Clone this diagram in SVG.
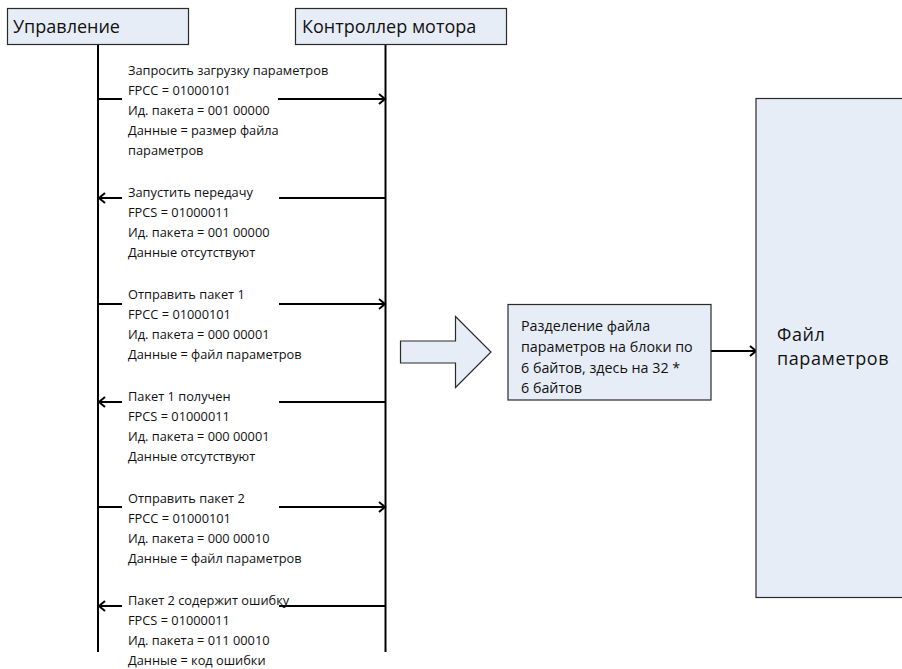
<svg xmlns="http://www.w3.org/2000/svg" width="902" height="669" viewBox="0 0 902 669">
  <defs>
    <marker id="open" markerWidth="10" markerHeight="12" refX="8" refY="6" orient="auto" markerUnits="userSpaceOnUse">
      <path d="M2,1 L8,6 L2,11" fill="none" stroke="#000" stroke-width="2"/>
    </marker>
    <style>
      .box { fill: #e7edf6; stroke: #2a2a2a; stroke-width: 1.2; }
      .life { stroke: #000; stroke-width: 2; fill: none; }
      .msg { stroke: #000; stroke-width: 2; fill: none; }
      .head { font-family: "Open Sans", "Noto Sans", sans-serif; font-size: 18px; fill: #111; }
      .lbl { font-family: "Open Sans", "Noto Sans", sans-serif; font-size: 12.8px; fill: #111; }
      .note { font-family: "Open Sans", "Noto Sans", sans-serif; font-size: 14.3px; fill: #111; }
      .file { font-family: "Open Sans", "Noto Sans", sans-serif; font-size: 18px; letter-spacing: 0.6px; fill: #111; }
    </style>
  </defs>
  <rect width="902" height="669" fill="#fff"/>

  <!-- lifelines -->
  <g id="lifelines">
    <line class="life" x1="98" y1="45" x2="98" y2="652"/>
    <line class="life" x1="385.5" y1="45" x2="385.5" y2="652"/>
  </g>

  <!-- participants -->
  <g id="participant-control">
    <rect class="box" x="7.5" y="8.5" width="181" height="36"/>
    <text class="head" x="13" y="33">Управление</text>
  </g>
  <g id="participant-motor">
    <rect class="box" x="295.5" y="8.5" width="211" height="36"/>
    <text class="head" x="302" y="33">Контроллер мотора</text>
  </g>

  <!-- messages -->
  <g id="connectors">
    <line class="msg" x1="98" y1="99" x2="122" y2="99"/>
    <line class="msg" x1="278" y1="99" x2="385" y2="99" marker-end="url(#open)"/>

    <line class="msg" x1="385" y1="198" x2="279" y2="198"/>
    <line class="msg" x1="122" y1="198" x2="99" y2="198" marker-end="url(#open)"/>

    <line class="msg" x1="98" y1="304" x2="122" y2="304"/>
    <line class="msg" x1="279" y1="304" x2="385" y2="304" marker-end="url(#open)"/>

    <line class="msg" x1="385" y1="402" x2="279" y2="402"/>
    <line class="msg" x1="122" y1="402" x2="99" y2="402" marker-end="url(#open)"/>

    <line class="msg" x1="98" y1="507" x2="122" y2="507"/>
    <line class="msg" x1="279" y1="507" x2="385" y2="507" marker-end="url(#open)"/>

    <line class="msg" x1="385" y1="606" x2="279" y2="606"/>
    <line class="msg" x1="122" y1="606" x2="99" y2="606" marker-end="url(#open)"/>

    <line class="msg" x1="711" y1="351" x2="756" y2="351" marker-end="url(#open)"/>
  </g>

  <!-- message labels -->
  <g id="msg-request">
    <text class="lbl" x="128" y="75">Запросить загрузку параметров</text>
    <text class="lbl" x="128" y="95">FPCC = 01000101</text>
    <text class="lbl" x="128" y="115">Ид. пакета = 001 00000</text>
    <text class="lbl" x="128" y="135">Данные = размер файла</text>
    <text class="lbl" x="128" y="155">параметров</text>
  </g>
  <g id="msg-start">
    <text class="lbl" x="128" y="197">Запустить передачу</text>
    <text class="lbl" x="128" y="217">FPCS = 01000011</text>
    <text class="lbl" x="128" y="237">Ид. пакета = 001 00000</text>
    <text class="lbl" x="128" y="257">Данные отсутствуют</text>
  </g>
  <g id="msg-send1">
    <text class="lbl" x="128" y="299">Отправить пакет 1</text>
    <text class="lbl" x="128" y="319">FPCC = 01000101</text>
    <text class="lbl" x="128" y="339">Ид. пакета = 000 00001</text>
    <text class="lbl" x="128" y="359">Данные = файл параметров</text>
  </g>
  <g id="msg-recv1">
    <text class="lbl" x="128" y="401">Пакет 1 получен</text>
    <text class="lbl" x="128" y="421">FPCS = 01000011</text>
    <text class="lbl" x="128" y="441">Ид. пакета = 000 00001</text>
    <text class="lbl" x="128" y="461">Данные отсутствуют</text>
  </g>
  <g id="msg-send2">
    <text class="lbl" x="128" y="503">Отправить пакет 2</text>
    <text class="lbl" x="128" y="523">FPCC = 01000101</text>
    <text class="lbl" x="128" y="543">Ид. пакета = 000 00010</text>
    <text class="lbl" x="128" y="563">Данные = файл параметров</text>
  </g>
  <g id="msg-error2">
    <text class="lbl" x="128" y="605">Пакет 2 содержит ошибку</text>
    <text class="lbl" x="128" y="625">FPCS = 01000011</text>
    <text class="lbl" x="128" y="645">Ид. пакета = 011 00010</text>
    <text class="lbl" x="128" y="665">Данные = код ошибки</text>
  </g>

  <!-- block arrow -->
  <g id="block-arrow">
    <path class="box" d="M400.5,341 L455.5,341 L455.5,316.5 L491,352 L455.5,387.5 L455.5,363 L400.5,363 Z"/>
  </g>

  <!-- split note -->
  <g id="split-note">
    <rect class="box" x="508" y="304.5" width="203" height="95.5"/>
    <text class="note" x="521" y="331">Разделение файла</text>
    <text class="note" x="521" y="352">параметров на блоки по</text>
    <text class="note" x="521" y="373">6 байтов, здесь на 32 *</text>
    <text class="note" x="521" y="393">6 байтов</text>
  </g>

  <!-- parameter file -->
  <g id="param-file">
    <rect class="box" x="756" y="98.5" width="160" height="499"/>
    <text class="file" x="777" y="341">Файл</text>
    <text class="file" x="777" y="365">параметров</text>
  </g>
</svg>
